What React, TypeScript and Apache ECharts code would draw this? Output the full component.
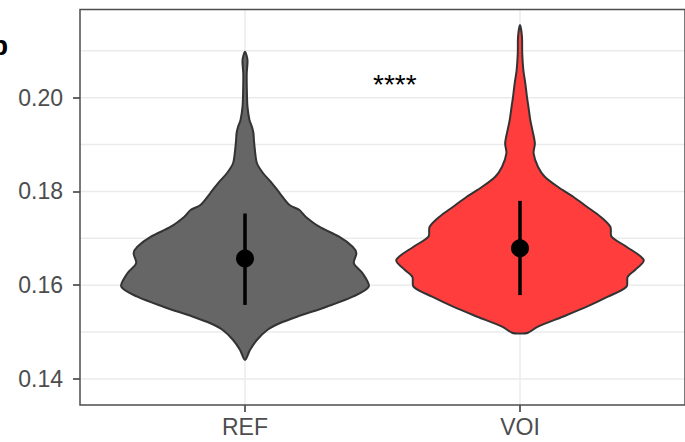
import React, { useEffect, useRef } from 'react';
import * as echarts from 'echarts';

// ---- data ----
const categories = ['REF', 'VOI'];
const yTicks = [0.14, 0.16, 0.18, 0.2];
const yMinorTicks = [0.15, 0.17, 0.19, 0.21];

// violin outline: values (top -> bottom) and relative density (max = 1)
const refValues = [0.20981, 0.20804, 0.2052, 0.20164, 0.19808, 0.19524, 0.19381, 0.19247, 0.19098, 0.18884, 0.18607, 0.18394, 0.1818, 0.17967, 0.17711, 0.17604, 0.17462, 0.17248, 0.17035, 0.16822, 0.16681, 0.16468, 0.16254, 0.15968, 0.15755, 0.15542, 0.15328, 0.15188, 0.15045, 0.14831, 0.14618, 0.14405];
const refDensity = [0, 0.02, 0.014, 0.015, 0.02, 0.036, 0.056, 0.068, 0.072, 0.08, 0.096, 0.145, 0.217, 0.28, 0.36, 0.44, 0.49, 0.6, 0.76, 0.87, 0.9, 0.88, 0.95, 1.0, 0.87, 0.66, 0.42, 0.28, 0.18, 0.096, 0.04, 0];

const voiValues = [0.21551, 0.21301, 0.20947, 0.20591, 0.20307, 0.20021, 0.19808, 0.19524, 0.19311, 0.19027, 0.18814, 0.18528, 0.18315, 0.18101, 0.17888, 0.17675, 0.17462, 0.17248, 0.17035, 0.16822, 0.16538, 0.16325, 0.16182, 0.15968, 0.15755, 0.15542, 0.15328, 0.15115, 0.14987, 0.1497];
const voiDensity = [0, 0.016, 0.018, 0.027, 0.043, 0.056, 0.068, 0.083, 0.1, 0.12, 0.11, 0.145, 0.2, 0.305, 0.43, 0.54, 0.65, 0.73, 0.74, 0.86, 1.0, 0.93, 0.87, 0.86, 0.71, 0.54, 0.345, 0.145, 0.064, 0];

const means = [0.1657, 0.1679];
const sdLow = [0.1558, 0.1579];
const sdHigh = [0.1753, 0.178];

const signifLabel = '****';
const signifPos = [1.545, 0.2028];
const panelLabel = 'b';

// ---- styles ----
const FONT = '"Liberation Sans", Arial, Helvetica, sans-serif';
const fills = ['#666666', '#FF3D3D'];
const HALF = 0.45;
const X_MIN = 0.4;
const X_MAX = 2.6;
const Y_MIN = 0.13445;
const Y_MAX = 0.218814;

const violinValues = [refValues, voiValues];
const violinDensity = [refDensity, voiDensity];

export default function App() {
  const ref = useRef<HTMLDivElement>(null);

  useEffect(() => {
    document.body.style.margin = '0';
    if (!ref.current) return;
    const chart = echarts.init(ref.current, undefined, { renderer: 'svg' });

    const gridData: any[] = [
      ...yMinorTicks.map((v) => [0, v]),
      ...yTicks.map((v) => [0, v]),
      ...categories.map((_, i) => [1, i + 1]),
    ];

    const option: any = {
      animation: false,
      textStyle: { fontFamily: FONT },
      grid: { left: 80, top: 9.5, width: 609, height: 395.5, show: false },
      xAxis: {
        type: 'value',
        min: X_MIN,
        max: X_MAX,
        splitLine: { show: false },
        axisLine: { show: false },
        axisTick: {
          show: true,
          length: 7,
          customValues: categories.map((_, i) => i + 1),
          lineStyle: { color: '#333333', width: 1.5 },
        },
        axisLabel: {
          customValues: categories.map((_, i) => i + 1),
          formatter: (v: number) => categories[Math.round(v) - 1] ?? '',
          color: '#4D4D4D',
          fontSize: 23,
          fontFamily: FONT,
          margin: 10,
        },
      },
      yAxis: {
        type: 'value',
        min: Y_MIN,
        max: Y_MAX,
        splitLine: { show: false },
        axisLine: { show: false },
        axisTick: {
          show: true,
          length: 7,
          customValues: yTicks,
          lineStyle: { color: '#333333', width: 1.5 },
        },
        axisLabel: {
          customValues: yTicks,
          formatter: (v: number) => v.toFixed(2),
          color: '#4D4D4D',
          fontSize: 23,
          fontFamily: FONT,
          margin: 17,
        },
      },
      graphic: [
        {
          type: 'text',
          x: -9,
          y: 45,
          style: {
            text: panelLabel,
            fontSize: 28,
            fontWeight: 'bold',
            fontFamily: FONT,
            fill: '#000',
            textVerticalAlign: 'middle',
          },
        },
      ],
      series: [
        {
          type: 'custom',
          z: 1,
          silent: true,
          data: gridData,
          renderItem: (params: any, api: any) => {
            const kind = api.value(0);
            const v = api.value(1);
            if (kind === 0) {
              const a = api.coord([X_MIN, v]);
              const b = api.coord([X_MAX, v]);
              return {
                type: 'line',
                shape: { x1: a[0], y1: a[1], x2: b[0], y2: b[1] },
                style: { stroke: '#EBEBEB', lineWidth: 1.5 },
              };
            }
            const a = api.coord([v, Y_MIN]);
            const b = api.coord([v, Y_MAX]);
            return {
              type: 'line',
              shape: { x1: a[0], y1: a[1], x2: b[0], y2: b[1] },
              style: { stroke: '#EBEBEB', lineWidth: 1.5 },
            };
          },
        },
        {
          type: 'custom',
          z: 3,
          silent: true,
          data: categories.map((_, i) => [i + 1, means[i]]),
          renderItem: (params: any, api: any) => {
            const i = params.dataIndex;
            const vals = violinValues[i];
            const dens = violinDensity[i];
            const cx = i + 1;
            const right = vals.map((v, k) => api.coord([cx + dens[k] * HALF, v]));
            const left: number[][] = [];
            for (let k = vals.length - 1; k >= 0; k--) {
              if (dens[k] > 0) left.push(api.coord([cx - dens[k] * HALF, vals[k]]));
            }
            return {
              type: 'polygon',
              shape: { points: right.concat(left), smooth: 0.3 },
              style: { fill: fills[i], stroke: '#333333', lineWidth: 2 },
            };
          },
        },
        {
          type: 'custom',
          z: 4,
          silent: true,
          data: categories.map((_, i) => [i + 1, means[i], sdLow[i], sdHigh[i]]),
          renderItem: (params: any, api: any) => {
            const x = api.value(0);
            const c = api.coord([x, api.value(1)]);
            const lo = api.coord([x, api.value(2)]);
            const hi = api.coord([x, api.value(3)]);
            return {
              type: 'group',
              children: [
                {
                  type: 'line',
                  shape: { x1: lo[0], y1: lo[1], x2: hi[0], y2: hi[1] },
                  style: { stroke: '#000', lineWidth: 3.5 },
                },
                {
                  type: 'circle',
                  shape: { cx: c[0], cy: c[1], r: 9 },
                  style: { fill: '#000' },
                },
              ],
            };
          },
        },
        {
          type: 'custom',
          z: 5,
          silent: true,
          data: [signifPos],
          renderItem: (params: any, api: any) => {
            const p = api.coord([api.value(0), api.value(1)]);
            return {
              type: 'text',
              x: p[0],
              y: p[1],
              style: {
                text: signifLabel,
                fontSize: 28,
                fontFamily: FONT,
                fill: '#000',
                textAlign: 'center',
                textVerticalAlign: 'middle',
              },
            };
          },
        },
        {
          type: 'custom',
          z: 6,
          silent: true,
          data: [[X_MIN, Y_MAX]],
          renderItem: (params: any, api: any) => {
            const a = api.coord([X_MIN, Y_MAX]);
            const b = api.coord([X_MAX, Y_MIN]);
            return {
              type: 'rect',
              shape: { x: a[0], y: a[1], width: b[0] - a[0], height: b[1] - a[1] },
              style: { fill: 'none', stroke: '#4D4D4D', lineWidth: 1.5 },
            };
          },
        },
      ],
    };

    chart.setOption(option);
    return () => chart.dispose();
  }, []);

  return <div ref={ref} style={{ width: 685, height: 442 }} />;
}
